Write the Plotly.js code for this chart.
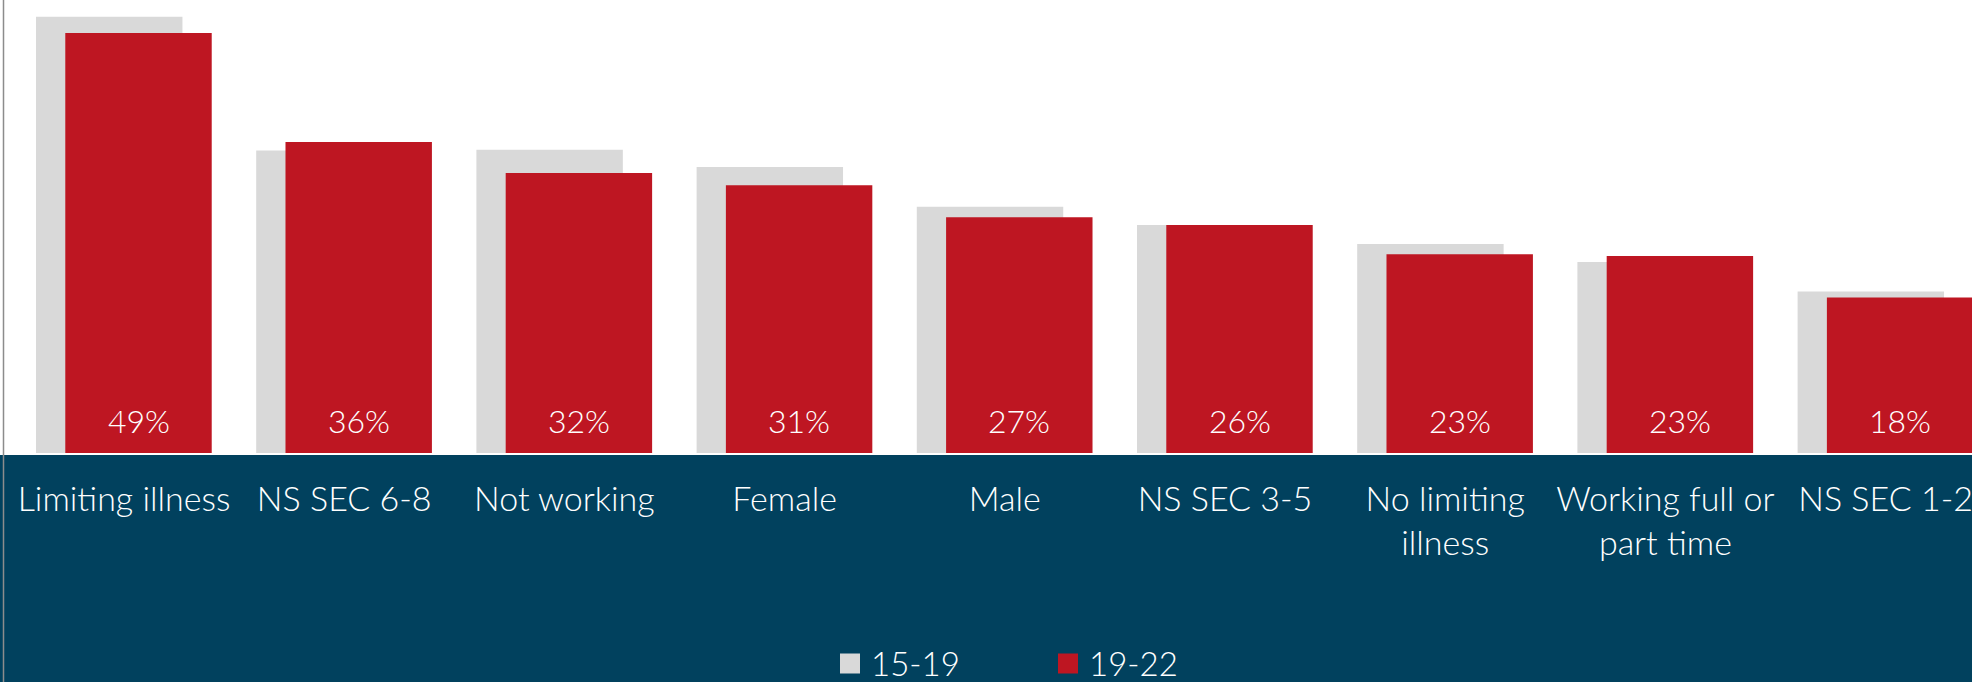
<!DOCTYPE html>
<html>
<head>
<meta charset="utf-8">
<script src="https://cdn.plot.ly/plotly-3.0.1.min.js"></script>
<style>
  html, body { margin: 0; padding: 0; background: #ffffff; }
  #chart { width: 1972px; height: 682px; }
</style>
</head>
<body>
<div id="chart"></div>
<script>
// ---- data ----
const categories = ["Limiting illness", "NS SEC 6-8", "Not working", "Female", "Male",
                    "NS SEC 3-5", "No limiting<br>illness", "Working full or<br>part time", "NS SEC 1-2"];
const seriesNames = ["15-19", "19-22"];
const values1519 = [50.5, 35.0, 35.1, 33.1, 28.5, 26.4, 24.2, 22.1, 18.7];
const values1922 = [48.6, 36.0, 32.4, 31.0, 27.3, 26.4, 23.0, 22.8, 18.0];

// ---- style ----
const GREY = "#D9D9D9";
const RED = "#BE1622";
const NAVY = "#01415E";
const FONT = "Lato, 'Open Sans', sans-serif";

const W = 1972, H = 682, MB = 229;
const plotH = H - MB;
const py = (pix) => (plotH - pix) / plotH;   // pixel y -> paper y
const px = (pix) => pix / W;                  // pixel x -> paper x

const traces = [
  {
    type: "bar", name: seriesNames[0], x: categories, y: values1519,
    width: 0.665, offset: -0.3996,
    marker: { color: GREY, line: { width: 0 } },
    hoverinfo: "skip", showlegend: false
  },
  {
    type: "bar", name: seriesNames[1], x: categories, y: values1922,
    width: 0.665, offset: -0.2666,
    marker: { color: RED, line: { width: 0 } },
    hoverinfo: "skip", showlegend: false
  }
];

const annotations = categories.map((c, i) => ({
  x: c, y: 0, xref: "x", yref: "y",
  text: Math.round(values1922[i]) + "%",
  showarrow: false, yanchor: "bottom", xanchor: "center",
  xshift: 14.65, yshift: 11,
  font: { family: FONT, size: 32, color: "#ffffff", weight: 300 }
}));

// custom legend (text + squares)
const legendColors = [GREY, RED];
const legendX = [840, 1058];
const legendY = 663;
legendColors.forEach((col, k) => {
  annotations.push({
    x: px(legendX[k] + 30), y: py(legendY), xref: "paper", yref: "paper",
    text: seriesNames[k], showarrow: false, xanchor: "left", yanchor: "middle",
    borderpad: 0,
    font: { family: FONT, size: 33, color: "#ffffff", weight: 300 }
  });
});
const shapes = legendColors.map((col, k) => ({
  type: "rect", xref: "paper", yref: "paper",
  x0: px(legendX[k]), x1: px(legendX[k] + 20), y0: py(legendY + 10.5), y1: py(legendY - 9.5),
  fillcolor: col, line: { width: 0 }
}));
shapes.push({
  type: "line", xref: "paper", yref: "paper",
  x0: px(3.5), x1: px(3.5), y0: py(H), y1: 1,
  line: { color: "#8C8C8C", width: 1.5 }
});

const layout = {
  width: W, height: H,
  margin: { l: 0, r: 0, t: 0, b: MB, pad: 0 },
  paper_bgcolor: NAVY,
  plot_bgcolor: "#ffffff",
  barmode: "overlay",
  showlegend: false,
  xaxis: {
    type: "category",
    range: [-0.5631, 8.3924],
    showgrid: false, zeroline: false, ticks: "",
    showline: true, linecolor: "#ffffff", linewidth: 2,
    ticklabelstandoff: 15,
    tickfont: { family: FONT, size: 34, color: "#ffffff", weight: 300 },
    fixedrange: true
  },
  yaxis: {
    range: [0, plotH / 8.64],
    visible: false, showgrid: false, zeroline: false, fixedrange: true
  },
  annotations: annotations,
  shapes: shapes
};

Plotly.newPlot("chart", traces, layout, { displayModeBar: false, staticPlot: true });
</script>
</body>
</html>
